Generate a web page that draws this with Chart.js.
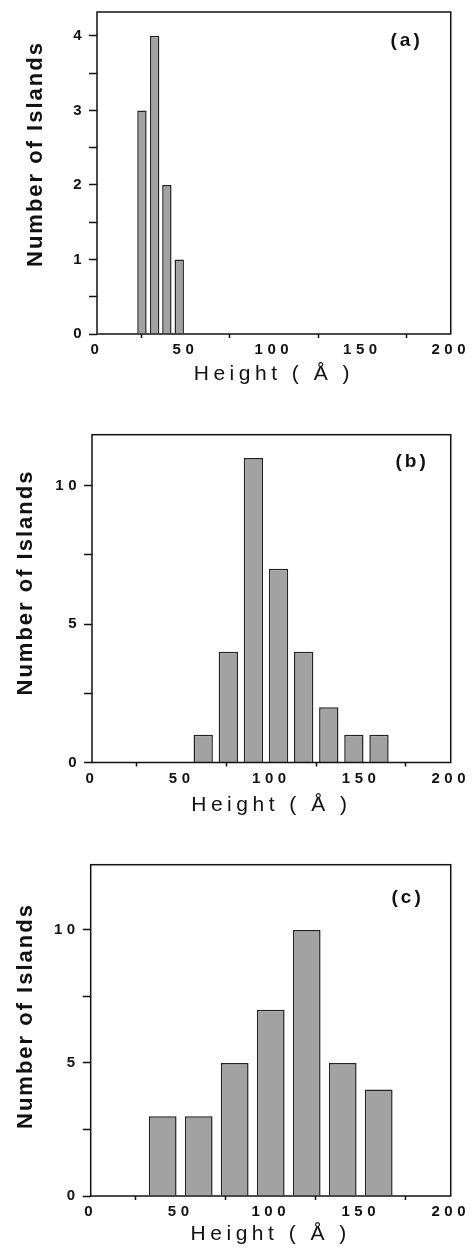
<!DOCTYPE html>
<html>
<head>
<meta charset="utf-8">
<script src="https://cdn.jsdelivr.net/npm/chart.js@4.4.0/dist/chart.umd.min.js"></script>
<style>
  html, body { margin: 0; padding: 0; background: #fff; }
  body { width: 473px; height: 1251px; position: relative; overflow: hidden; }
  .panel { position: absolute; left: 0; width: 473px; }
</style>
</head>
<body>
<div class="panel" style="top:0px;height:387px"><canvas id="chartA"></canvas></div>
<div class="panel" style="top:420px;height:398px"><canvas id="chartB"></canvas></div>
<div class="panel" style="top:850px;height:397px"><canvas id="chartC"></canvas></div>
<script>
// bin centres (Å) and island counts
const heightsA = [25.4, 32.6, 39.5, 46.5];
const countsA = [3, 4, 2, 1];
const heightsB = [62, 76, 90, 104, 118, 132, 146, 160];
const countsB = [1, 4, 11, 7, 4, 2, 1, 1];
const heightsC = [40, 60, 80, 100, 120, 140, 160];
const countsC = [3, 3, 5, 7, 10, 5, 4];

// axis ticks: labelled values and unlabelled tick marks
const xLabels = [0, 50, 100, 150, 200];
const xMarks = [25, 75, 125, 175];
const yLabelsA = [0, 1, 2, 3, 4];
const yMinorA = [0.5, 1.5, 2.5, 3.5];
const yLabelsBC = [0, 5, 10];
const yMinorBC = [2.5, 7.5];

const FONT = "'Liberation Sans', Arial, sans-serif";
const INK = '#111';

// frame around the plot, panel tag and the y title
const decor = {
  id: 'decor',
  beforeUpdate(chart) { chart.ctx.letterSpacing = '4.5px'; },
  beforeDraw(chart) { chart.ctx.letterSpacing = '4.5px'; },
  afterDraw(chart, args, opts) {
    const ctx = chart.ctx;
    const a = chart.chartArea;
    ctx.save();
    ctx.strokeStyle = INK;
    ctx.lineWidth = 1.5;
    ctx.strokeRect(a.left, a.top, a.right - a.left, a.bottom - a.top);

    ctx.fillStyle = INK;
    ctx.font = 'bold 19px ' + FONT;
    ctx.letterSpacing = '3px';
    ctx.textAlign = 'right';
    ctx.textBaseline = 'middle';
    ctx.fillText(opts.tag, a.right - opts.tagDx, a.top + opts.tagDy);

    ctx.translate(opts.titleX, a.bottom - 67);
    ctx.rotate(-Math.PI / 2);
    ctx.font = 'bold 22px ' + FONT;
    ctx.letterSpacing = '2px';
    ctx.textAlign = 'left';
    ctx.textBaseline = 'alphabetic';
    ctx.fillText('Number of Islands', 0, 0);
    ctx.restore();
  }
};

function tickList(a, b) {
  return [...a, ...b].sort((p, q) => p - q).map(v => ({value: v}));
}

function makeHistogram(id, heights, counts, yMax, yLabels, yMinor, box) {
  const points = heights.map((h, i) => ({x: h, y: counts[i]}));
  return new Chart(document.getElementById(id), {
    type: 'bar',
    data: {
      datasets: [{
        data: points,
        backgroundColor: '#a2a2a2',
        borderColor: '#222',
        borderWidth: 1.5,
        barPercentage: 0.77,
        categoryPercentage: 1
      }]
    },
    options: {
      responsive: true,
      maintainAspectRatio: false,
      animation: false,
      layout: {padding: {top: box.top, right: box.right, left: 0, bottom: 0}},
      plugins: {
        legend: {display: false},
        tooltip: {enabled: false},
        decor: {tag: box.tag, tagDx: box.tagDx, tagDy: box.tagDy, titleX: box.titleX}
      },
      scales: {
        x: {
          type: 'linear',
          min: 0,
          max: 200,
          offset: false,
          afterBuildTicks: s => { s.ticks = tickList(xLabels, xMarks); },
          afterFit: s => { s.height = box.xh; },
          border: {display: false},
          grid: {
            offset: false,
            drawOnChartArea: false,
            tickLength: 4,
            tickWidth: 1.5,
            tickColor: c => xMarks.includes(c.tick.value) ? INK : 'rgba(0,0,0,0)'
          },
          ticks: {
            autoSkip: false,
            maxRotation: 0,
            padding: 3,
            color: INK,
            font: {family: FONT, size: 15, weight: 'bold'},
            callback: v => xLabels.includes(v) ? String(v) : ''
          },
          title: {
            display: true,
            text: 'Height ( Å )',
            color: INK,
            padding: 0,
            font: {family: FONT, size: 21}
          }
        },
        y: {
          min: 0,
          max: yMax,
          afterBuildTicks: s => { s.ticks = tickList(yLabels, yMinor); },
          afterFit: s => { s.width = box.yw; },
          border: {display: false},
          grid: {
            drawOnChartArea: false,
            tickLength: 8,
            tickWidth: 1.5,
            tickColor: INK
          },
          ticks: {
            autoSkip: false,
            padding: 3,
            color: INK,
            font: {family: FONT, size: 15, weight: 'bold'},
            callback: v => yLabels.includes(v) ? String(v) : ''
          }
        }
      }
    },
    plugins: [decor]
  });
}

makeHistogram('chartA', heightsA, countsA, 4.32, yLabelsA, yMinorA,
  {top: 8, right: 18, yw: 97, xh: 53, tag: '(a)', tagDx: 28, tagDy: 29, titleX: 42});
makeHistogram('chartB', heightsB, countsB, 11.84, yLabelsBC, yMinorBC,
  {top: 14.7, right: 20.7, yw: 92, xh: 55.5, tag: '(b)', tagDx: 22, tagDy: 27.5, titleX: 32});
makeHistogram('chartC', heightsC, countsC, 12.45, yLabelsBC, yMinorBC,
  {top: 14.7, right: 20.7, yw: 90.7, xh: 51, tag: '(c)', tagDx: 27, tagDy: 33, titleX: 32});
</script>
</body>
</html>
